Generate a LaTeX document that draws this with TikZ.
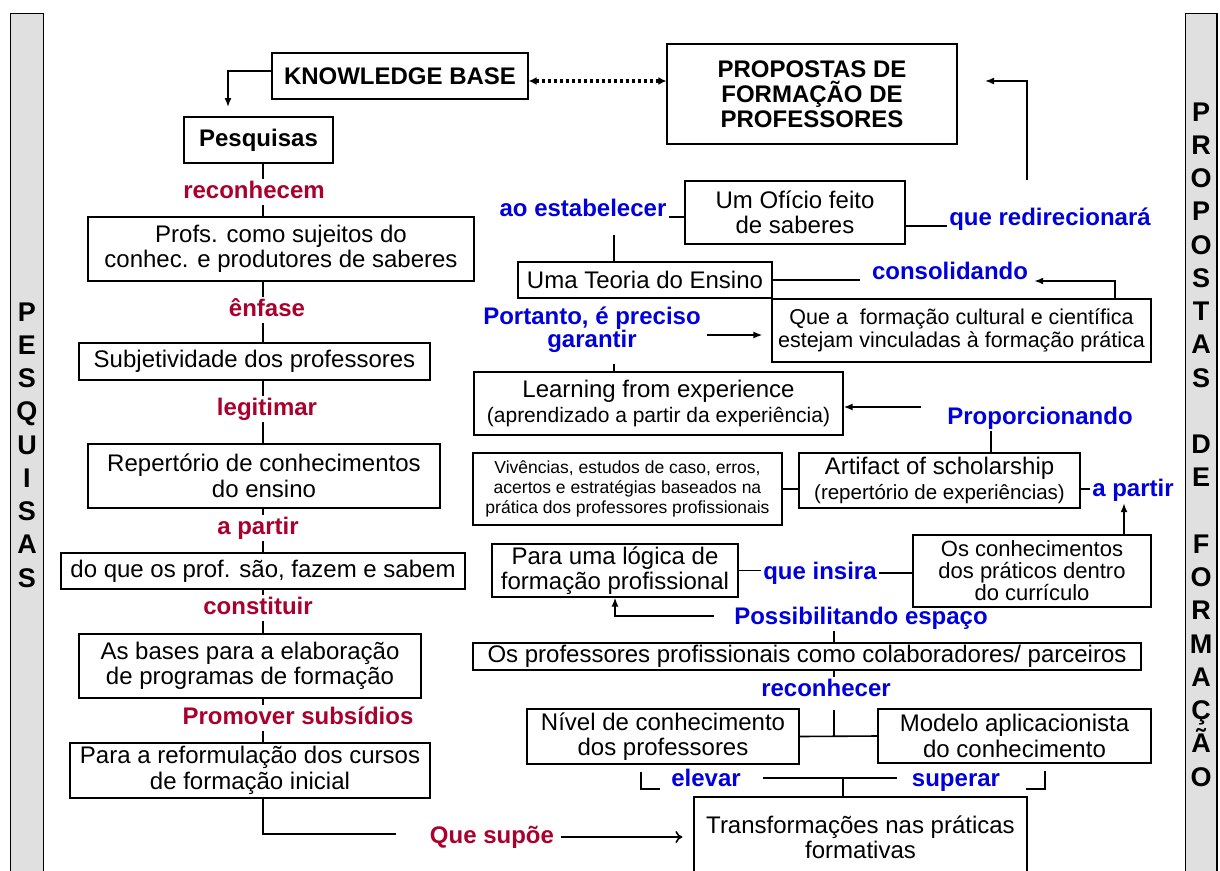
\documentclass[tikz,border=0pt]{standalone}
\usepackage{fontspec}
\setmainfont{Liberation Sans}
\usetikzlibrary{arrows.meta}
\definecolor{labred}{RGB}{170,0,45}
\definecolor{labblue}{RGB}{0,0,220}
\definecolor{bargray}{RGB}{224,224,224}
\begin{document}
\begin{tikzpicture}[x=1pt,y=-1pt,
    box/.style={draw, line width=1.2pt, inner sep=0pt, align=center, font=\fontsize{24}{25.5}\selectfont},
    redlab/.style={text=labred, font=\bfseries\fontsize{24}{24}\selectfont, inner sep=2pt, text height=17pt, text depth=5pt},
    bluelab/.style={redlab, text=labblue},
    conn/.style={line width=1.6pt},
    arr/.style={conn, -{Latex[length=9pt,width=7pt]}}]
    \useasboundingbox (0,0) rectangle (1220,870); \clip (0,0) rectangle (1220,870);
    \fill[white] (0,0) rectangle (1220,870);
    \draw[line width=1.2pt, fill=bargray] (10.5,13.5) rectangle (43.5,880);
    \draw[line width=1.2pt, fill=bargray] (1185.5,13.5) rectangle (1217,880);
    \node[font=\bfseries\fontsize{27}{33.25}\selectfont, align=center, inner sep=0pt] (pesqbar) at (27,445) {P\\E\\S\\Q\\U\\I\\S\\A\\S};
    \node[font=\bfseries\fontsize{27}{33.25}\selectfont, align=center, inner sep=0pt] (propbar) at (1201,444.5) {P\\R\\O\\P\\O\\S\\T\\A\\S\\~\\D\\E\\~\\F\\O\\R\\M\\A\\Ç\\Ã\\O};
    % left column
    \node[box, minimum width=256, minimum height=46, font=\bfseries\fontsize{24}{25}\selectfont] (kb) at (400,76) {KNOWLEDGE BASE};
    \node[box, minimum width=149, minimum height=46, font=\bfseries\fontsize{24}{25}\selectfont] (pesq) at (258.5,140) {Pesquisas};
    \node[box, minimum width=386, minimum height=64] (profs) at (281,249) {Profs. como sujeitos do\\conhec. e produtores de saberes};
    \node[box, minimum width=351, minimum height=37] (subj) at (254.5,361.5) {Subjetividade dos professores};
    \node[box, minimum width=352, minimum height=64] (rep) at (264,476) {Repertório de conhecimentos\\do ensino};
    \node[box, minimum width=404, minimum height=36] (doque) at (263,571) {do que os prof. são, fazem e sabem};
    \node[box, minimum width=342, minimum height=64] (bases) at (250,666) {As bases para a elaboração\\de programas de formação};
    \node[box, minimum width=360, minimum height=55] (reform) at (250,770.5) {Para a reformulação dos cursos\\de formação inicial};
    \node[redlab] (rec) at (254,192) {reconhecem}; \node[redlab] (enf) at (267,310) {ênfase};
    \node[redlab] (leg) at (267,409) {legitimar}; \node[redlab] (apa) at (258,528) {a partir};
    \node[redlab] (cons) at (258,608) {constituir}; \node[redlab] (prom) at (298,718) {Promover subsídios};
    \node[redlab] (supoe) at (492,837) {Que supõe};
    % right side
    \node[box, minimum width=290, minimum height=100, font=\bfseries\fontsize{24}{25}\selectfont] (prop) at (812,94) {PROPOSTAS DE\\FORMAÇÃO DE\\PROFESSORES};
    \node[box, minimum width=220, minimum height=63] (oficio) at (795,212.5) {Um Ofício feito\\de saberes};
    \node[box, minimum width=254, minimum height=36] (teoria) at (645,280) {Uma Teoria do Ensino};
    \node[box, minimum width=379, minimum height=63, font=\fontsize{21.5}{23}\selectfont] (quea) at (961.5,330.5) {Que a~ formação cultural e científica\\estejam vinculadas à formação prática};
    \node[box, minimum width=369, minimum height=63] (learn) at (658.5,403.5) {Learning from experience\\{\fontsize{21}{22}\selectfont(aprendizado a partir da experiência)}};
    \node[box, minimum width=309, minimum height=72, font=\fontsize{17.5}{20}\selectfont] (viv) at (627.5,489) {Vivências, estudos de caso, erros,\\acertos e estratégias baseados na\\prática dos professores profissionais};
    \node[box, minimum width=281, minimum height=55] (art) at (939.5,480.5) {Artifact of scholarship\\{\fontsize{20.5}{22}\selectfont(repertório de experiências)}};
    \node[box, minimum width=246, minimum height=53] (para) at (615,570.5) {Para uma lógica de\\formação profissional};
    \node[box, minimum width=238, minimum height=72, font=\fontsize{22}{22}\selectfont] (oscon) at (1032,571) {Os conhecimentos\\dos práticos dentro\\do currículo};
    \node[box, minimum width=668, minimum height=27] (col) at (807,656.5) {Os professores profissionais como colaboradores/ parceiros};
    \node[box, minimum width=272, minimum height=55] (nivel) at (663,736.5) {Nível de conhecimento\\dos professores};
    \node[box, minimum width=273, minimum height=54] (modelo) at (1014.5,736) {Modelo aplicacionista\\do conhecimento};
    \node[box, minimum width=333, minimum height=81] (transf) at (860.5,837.5) {Transformações nas práticas\\formativas};
    \node[bluelab] (estab) at (583,210) {ao estabelecer}; \node[bluelab] (redir) at (1050,219) {que redirecionará};
    \node[bluelab] (consol) at (950,273) {consolidando};
    \node[text=labblue, font=\bfseries\fontsize{24}{19}\selectfont, align=center, inner sep=2pt] (port) at (592,330) {Portanto, é preciso\\garantir};
    \node[bluelab] (propor) at (1040,418) {Proporcionando}; \node[bluelab] (apb) at (1133,490) {a partir};
    \node[bluelab] (insira) at (820,573) {que insira}; \node[bluelab] (poss) at (861,618) {Possibilitando espaço};
    \node[bluelab] (recr) at (826,690) {reconhecer};
    \node[bluelab] (elev) at (706,780) {elevar}; \node[bluelab] (super) at (956,780) {superar};
    \coordinate (spine) at (263,0); \coordinate (kbdown) at (228,107);
    \coordinate (redirup) at (1027,180); \coordinate (propin) at (985,81);
    \coordinate (learnin) at (921,407); \coordinate (tjoin) at (843,778);
    % connectors, left
    \draw[arr] ([yshift=5pt]kb.west) -| (kbdown);
    \draw[line width=3.2pt, dash pattern=on 3pt off 3pt, {Latex[length=8pt,width=8pt]}-{Latex[length=8pt,width=8pt]}] ([yshift=-5pt]kb.east) -- ([yshift=-5pt]kb.east -| prop.west);
    \draw[conn] (pesq.south -| spine) -- (rec.north -| spine); \draw[conn] (rec.south -| spine) -- (profs.north -| spine);
    \draw[conn] (profs.south -| spine) -- (enf.north -| spine); \draw[conn] (enf.south -| spine) -- (subj.north -| spine);
    \draw[conn] (subj.south -| spine) -- (leg.north -| spine); \draw[conn] (leg.south -| spine) -- (rep.north -| spine);
    \draw[conn] (rep.south -| spine) -- (apa.north -| spine); \draw[conn] (apa.south -| spine) -- (doque.north -| spine);
    \draw[conn] (doque.south -| spine) -- (cons.north -| spine); \draw[conn] (cons.south -| spine) -- (bases.north -| spine);
    \draw[conn] (bases.south -| spine) -- (prom.north -| spine); \draw[conn] (prom.south -| spine) -- (reform.north -| spine);
    \draw[conn] (reform.south -| spine) |- ([xshift=-32pt,yshift=3pt]supoe.west);
    \draw[conn, -{To[length=7pt,width=12pt]}] ([xshift=5pt]supoe.east) -- ([xshift=-11pt]supoe.east -| transf.west);
    % connectors, right
    \draw[conn] ([yshift=-7pt]estab.east) -- ([yshift=-7pt]estab.east -| oficio.west);
    \draw[conn] ([xshift=31pt,yshift=-12pt]estab.south) -- ([xshift=31pt]estab.south |- teoria.north);
    \draw[conn] ([yshift=-13.5pt]oficio.east) -- ([yshift=-13.5pt]oficio.east -| redir.west);
    \draw[arr] (redirup) |- (propin);
    \draw[conn] (teoria.east) -- ([xshift=-10pt]teoria.east -| consol.west);
    \draw[arr] ([xshift=153.5pt]quea.north) |- ([xshift=4pt,yshift=-8pt]consol.east);
    \draw[arr] ([xshift=4pt,yshift=-5pt]port.east) -- ([xshift=-9pt,yshift=-5pt]port.east -| quea.west);
    \draw[conn] ([xshift=22pt,yshift=-9pt]port.south) -- ([xshift=22pt]port.south |- learn.north);
    \draw[arr] (learnin) -- (learnin -| learn.east);
    \draw[conn] ([xshift=51.5pt]art.north) -- ([xshift=51.5pt]art.north |- propor.south);
    \draw[conn] (viv.east) -- (viv.east -| art.west);
    \draw[conn] ([yshift=-8.5pt]art.east) -- ([yshift=-8.5pt]art.east -| apb.west);
    \draw[arr] ([xshift=92pt]oscon.north) -- ([xshift=92pt]oscon.north |- apb.south);
    \draw[conn] (para.east) -- (para.east -| insira.west); \draw[conn] (insira.east) -- (insira.east -| oscon.west);
    \draw[arr] ([xshift=-18pt,yshift=2pt]poss.west) -| (para.south);
    \draw[conn] ([xshift=27pt]col.north) -- ([xshift=27pt]col.north |- poss.south);
    \draw[conn] ([xshift=27pt]col.south) -- ([xshift=27pt]col.south |- recr.north);
    \draw[conn] ([xshift=8pt,yshift=-7pt]recr.south) -- ([xshift=8pt]recr.south |- nivel.east);
    \draw[conn] (nivel.east) -- (modelo.west);
    \draw[conn] ([xshift=-22pt,yshift=-7pt]nivel.south) |- ([xshift=-9pt,yshift=-9pt]elev.west);
    \draw[conn] ([xshift=30.5pt,yshift=-7pt]modelo.south) |- ([xshift=24pt,yshift=-9pt]super.east);
    \draw[conn] ([xshift=20pt]elev.east |- tjoin) -- ([xshift=-13pt]super.west |- tjoin);
    \draw[conn] (tjoin) -- (tjoin |- transf.north);
\end{tikzpicture}
\end{document}
